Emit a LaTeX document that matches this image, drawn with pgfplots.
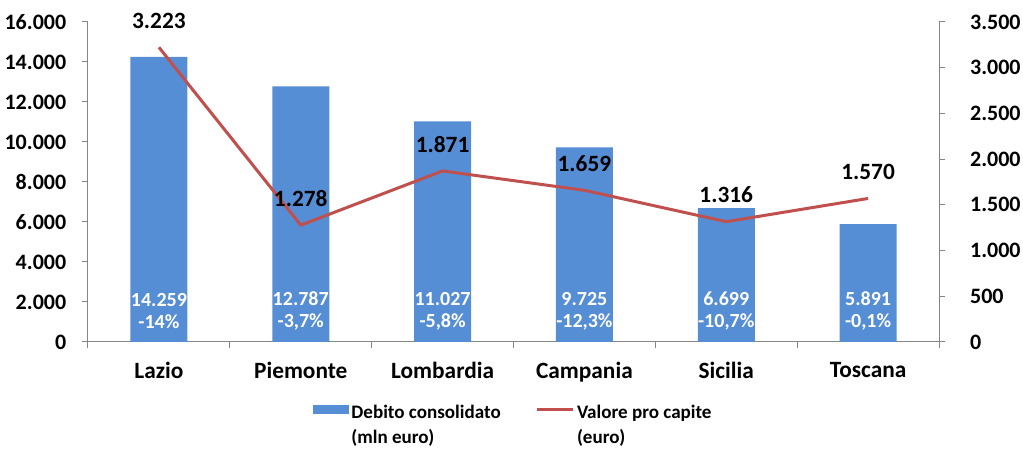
\documentclass[border=0pt]{standalone}
\usepackage{fontspec}
\setmainfont{Carlito}
\usepackage{pgfplots}
\pgfplotsset{compat=1.18}
\definecolor{barblue}{RGB}{85,142,213}
\definecolor{linered}{RGB}{192,80,77}
\definecolor{axgray}{RGB}{134,134,134}
\begin{document}
\begin{tikzpicture}[font=\bfseries\fontsize{15}{16.5}\selectfont]
\begin{axis}[
  name=ax,
  scale only axis, width=638.25pt, height=240pt,
  xmin=-0.5, xmax=5.5, ymin=0, ymax=16000,
  ytick={0,2000,...,16000},
  scaled y ticks=false,
  xtick={0,...,5},
  xticklabels={Lazio,Piemonte,Lombardia,Campania,Sicilia,Toscana},
  minor xtick={-0.5,0.5,1.5,2.5,3.5,4.5,5.5},
  axis x line*=bottom, axis y line*=left,
  axis line style={axgray, line width=0.75pt, -},
  tick align=outside,
  major tick length=4.8pt, minor tick length=4.8pt,
  every tick/.style={axgray, line width=0.75pt},
  major x tick style={draw=none},
  /pgf/number format/.cd, 1000 sep={.}, assume math mode=true,
  /pgfplots/.cd,
  yticklabel style={font=\bfseries\fontsize{16.5}{18}\selectfont, xshift=-8pt},
  xticklabel style={font=\bfseries\fontsize{17.5}{19}\selectfont, yshift=-7pt},
  legend style={at={(0.5,-0.165)}, anchor=north, draw=none, legend columns=2,
    font=\bfseries\fontsize{14.3}{19}\selectfont,
    /tikz/every even column/.append style={column sep=24pt}},
  legend cell align=left,
  clip=false,
]
\addplot[ybar, bar width=42.75pt, fill=barblue, draw=none,
  area legend,
  legend image code/.code={\fill[barblue] (0pt,-3pt) rectangle (27pt,4pt);}]
  coordinates {(0,14259) (1,12787) (2,11027) (3,9725) (4,6699) (5,5891)};
\addlegendentry{\begin{tabular}[t]{@{}l@{}}Debito consolidato\\(mln euro)\end{tabular}}
\addlegendimage{linered, line width=2.25pt, legend image code/.code={\draw[linered, line width=2.25pt] (0pt,0.5pt) -- (27pt,0.5pt);}}
\addlegendentry{\begin{tabular}[t]{@{}l@{}}Valore pro capite\\(euro)\end{tabular}}
\addplot[draw=none, mark=none, forget plot,
  nodes near coords, point meta=explicit symbolic,
  every node near coord/.style={anchor=center, text=white, align=center,
    font=\bfseries\fontsize{15}{16.5}\selectfont}]
  coordinates {
    (0,1550) [{14.259\\-14\%}]
    (1,1550) [{12.787\\-3,7\%}]
    (2,1550) [{11.027\\-5,8\%}]
    (3,1550) [{9.725\\-12,3\%}]
    (4,1550) [{6.699\\-10,7\%}]
    (5,1550) [{5.891\\-0,1\%}]
  };
\end{axis}
\begin{axis}[
  scale only axis, width=638.25pt, height=240pt,
  xmin=-0.5, xmax=5.5, ymin=0, ymax=3500,
  ytick={0,500,...,3500},
  axis x line=none, axis y line*=right,
  axis line style={axgray, line width=0.75pt, -},
  tick align=outside,
  major tick length=4.8pt,
  every tick/.style={axgray, line width=0.75pt},
  /pgf/number format/.cd, 1000 sep={.}, assume math mode=true,
  /pgfplots/.cd,
  yticklabel style={font=\bfseries\fontsize{16.5}{18}\selectfont, xshift=15pt},
  clip=false,
]
\addplot[linered, line width=2.25pt, mark=none,
  nodes near coords, point meta=explicit symbolic,
  every node near coord/.style={anchor=center, yshift=20pt, text=black,
    font=\bfseries\fontsize{17.5}{19}\selectfont}]
  coordinates {
    (0,3223) [3.223]
    (1,1278) [1.278]
    (2,1871) [1.871]
    (3,1659) [1.659]
    (4,1316) [1.316]
    (5,1570) [1.570]
  };
\end{axis}
\pgfresetboundingbox
\path[use as bounding box] ([xshift=-66pt, yshift=-90.75pt]ax.south west) rectangle ([xshift=63pt, yshift=16.5pt]ax.north east);
\end{tikzpicture}
\end{document}
